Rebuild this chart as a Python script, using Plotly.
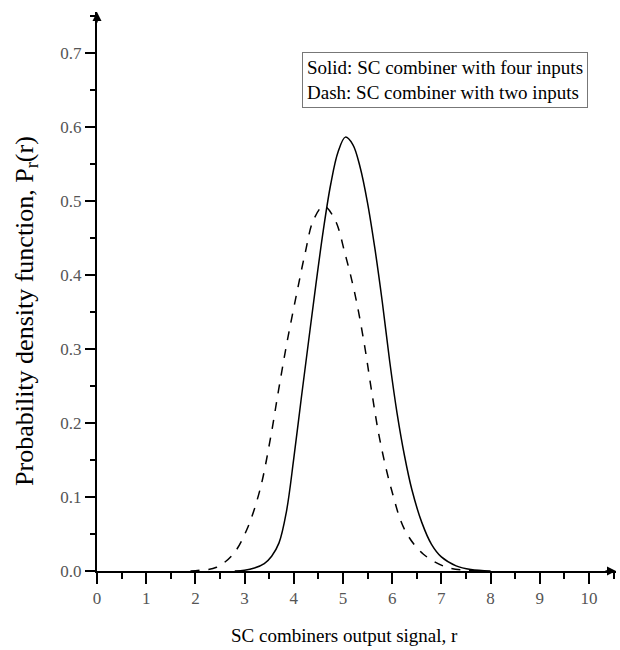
import plotly.graph_objects as go

# Solid: SC combiner with four inputs
r_four = [2.8, 3.0, 3.2, 3.4, 3.55, 3.7, 3.85, 4.0, 4.15, 4.3, 4.45, 4.6, 4.75, 4.9, 5.05, 5.2, 5.35, 5.5, 5.65, 5.8, 5.95, 6.1, 6.25, 6.4, 6.6, 6.8, 7.0, 7.3, 7.6, 8.0]
p_four = [0.0, 0.001, 0.004, 0.01, 0.02, 0.038, 0.08, 0.152, 0.232, 0.31, 0.387, 0.46, 0.522, 0.566, 0.586, 0.576, 0.545, 0.497, 0.435, 0.363, 0.283, 0.213, 0.156, 0.11, 0.066, 0.036, 0.019, 0.007, 0.002, 0.0]

# Dash: SC combiner with two inputs
r_two = [1.9, 2.09, 2.43, 2.77, 3.04, 3.31, 3.52, 3.69, 3.86, 4.06, 4.23, 4.40, 4.61, 4.84, 5.04, 5.24, 5.43, 5.58, 5.75, 5.99, 6.26, 6.63, 7.11, 7.51, 7.8]
p_two = [0.0, 0.001, 0.005, 0.023, 0.055, 0.109, 0.177, 0.244, 0.308, 0.375, 0.429, 0.474, 0.493, 0.474, 0.429, 0.375, 0.308, 0.244, 0.177, 0.109, 0.055, 0.023, 0.005, 0.001, 0.0]

x_ticks = list(range(0, 11))
y_ticks = [0.0, 0.1, 0.2, 0.3, 0.4, 0.5, 0.6, 0.7]

legend_lines = ["Solid: SC combiner with four inputs", "Dash: SC combiner with two inputs"]
x_title = "SC combiners output signal, r"
y_title = "Probability density function, P<sub>r</sub>(r)"

font_family = "Liberation Serif"

fig = go.Figure()
fig.add_trace(go.Scatter(x=r_four, y=p_four, mode="lines",
                         line=dict(color="black", width=1.5, shape="spline", smoothing=1.0),
                         showlegend=False))
fig.add_trace(go.Scatter(x=r_two, y=p_two, mode="lines",
                         line=dict(color="black", width=1.5, dash="dash", shape="spline", smoothing=1.0),
                         showlegend=False))

x_max = 10.55
y_max = 0.755

fig.update_layout(
    width=620, height=650,
    margin=dict(l=97, r=4, t=12, b=79),
    paper_bgcolor="white", plot_bgcolor="white",
    font=dict(family=font_family, color="black"),
    xaxis=dict(range=[0, x_max], tickvals=x_ticks, ticktext=[str(v) for v in x_ticks],
               showline=True, linecolor="black", linewidth=2, showgrid=False, zeroline=False,
               ticks="outside", ticklen=11, tickwidth=1.5, tickcolor="black",
               tickfont=dict(family=font_family, size=17, color="#555555"),
               minor=dict(dtick=0.5, ticks="outside", ticklen=6, tickwidth=1.5, tickcolor="black")),
    yaxis=dict(range=[0, y_max], tickvals=y_ticks, ticktext=[f"{v:.1f}" for v in y_ticks],
               showline=True, linecolor="black", linewidth=2, showgrid=False, zeroline=False,
               ticks="outside", ticklen=10, tickwidth=1.5, tickcolor="black",
               tickfont=dict(family=font_family, size=17, color="#555555"),
               minor=dict(dtick=0.05, ticks="outside", ticklen=5, tickwidth=1.5, tickcolor="black")),
)

# axis titles (positioned as in reference)
fig.add_annotation(x=0.477, y=-0.115, xref="paper", yref="paper", xanchor="center", yanchor="middle",
                   text=x_title, showarrow=False, font=dict(family=font_family, size=19, color="black"))
fig.add_annotation(x=-0.137, y=0.465, xref="paper", yref="paper", xanchor="center", yanchor="middle",
                   text=y_title, textangle=-90, showarrow=False, font=dict(family=font_family, size=26, color="black"))

# axis arrows
fig.add_annotation(x=x_max, y=0, xref="x", yref="y", ax=-12, ay=0, axref="pixel", ayref="pixel",
                   showarrow=True, arrowhead=2, arrowsize=1.2, arrowwidth=1.5, arrowcolor="black", text="")
fig.add_annotation(x=0, y=y_max, xref="x", yref="y", ax=0, ay=12, axref="pixel", ayref="pixel",
                   showarrow=True, arrowhead=2, arrowsize=1.2, arrowwidth=1.5, arrowcolor="black", text="")

# legend box
fig.add_annotation(x=9.98, y=0.701, xref="x", yref="y", xanchor="right", yanchor="top",
                   text="<br>".join(legend_lines), showarrow=False, align="left",
                   font=dict(family=font_family, size=19, color="black"),
                   bordercolor="#777777", borderwidth=1, borderpad=4, bgcolor="white")

fig.write_html("out.html")
